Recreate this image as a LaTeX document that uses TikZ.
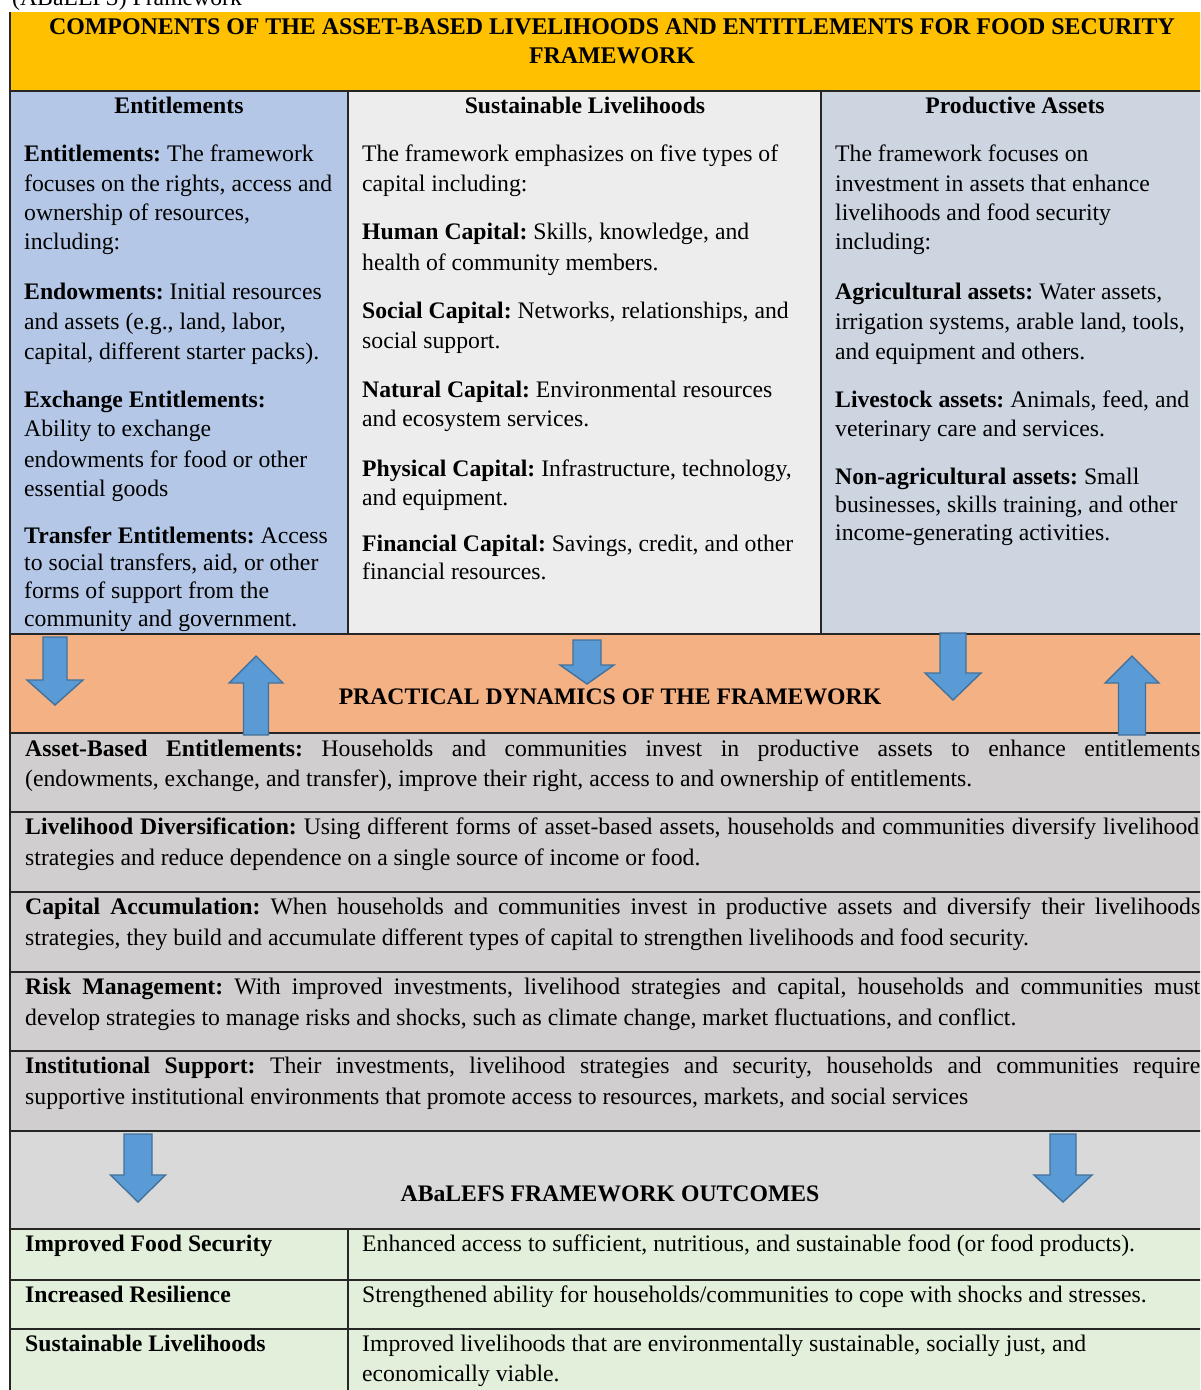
\documentclass[tikz,border=0pt]{standalone}
\usepackage{fontspec}
\setmainfont{Liberation Serif}
\definecolor{titlec}{HTML}{FFC000}
\definecolor{colA}{HTML}{B4C7E7}
\definecolor{colB}{HTML}{EDEDED}
\definecolor{colC}{HTML}{CDD5E1}
\definecolor{orangec}{HTML}{F4B183}
\definecolor{grayc}{HTML}{D0CECE}
\definecolor{outc}{HTML}{D9D9D9}
\definecolor{greenc}{HTML}{E2EFDA}
\definecolor{arrowfill}{HTML}{5B9BD5}
\definecolor{arrowline}{HTML}{41719C}
\definecolor{linec}{HTML}{262626}
\newcommand\fs{\fontsize{23.7}{29.5}\selectfont}
\newcounter{tln}
\newcommand\tline[3]{\stepcounter{tln}\node[txt] (tl\arabic{tln}) at (#1,#2) {#3};}
\newcommand\jline[4][1175pt]{\stepcounter{tln}\node[txt] (tl\arabic{tln}) at (#2,#3) {\makebox[#1][s]{#4}};}
\newcommand\blockarrow[6]{% cx, start, headbase, tip, shaft half, head half
  \draw[barrow] (#1-#5,#2) -- (#1+#5,#2) -- (#1+#5,#3) -- (#1+#6,#3) -- (#1,#4) -- (#1-#6,#3) -- (#1-#5,#3) -- cycle;}
\tikzset{
  txt/.style={anchor=base west, inner sep=0pt, font=\fs},
  ctxt/.style={anchor=base, inner sep=0pt, font=\fs\bfseries},
  cell/.style={draw=linec, line width=1.2pt},
  barrow/.style={fill=arrowfill, draw=arrowline, line width=1.4pt, line join=miter},
}
\begin{document}
\frenchspacing
\begin{tikzpicture}[x=1pt,y=-1pt]
\useasboundingbox (0,0) rectangle (1200,1390);
\clip (0,0) rectangle (1200,1390);
\fill[white] (0,0) rectangle (1200,1390);
% cut-off caption above the table
\node[txt] (cap) at (12,5) {(ABaLEFS) Framework};
% backgrounds
\fill[titlec] (10,12) rectangle (1210,91);
\fill[colA] (10,91) rectangle (348,634);
\fill[colB] (348,91) rectangle (821,634);
\fill[colC] (821,91) rectangle (1210,634);
\fill[orangec] (10,634) rectangle (1210,733);
\fill[grayc] (10,733) rectangle (1210,1131);
\fill[outc] (10,1131) rectangle (1210,1229);
\fill[greenc] (10,1229) rectangle (1210,1390);
% grid lines
\draw[cell] (10,12) -- (10,1390);
\draw[cell] (1210,12) -- (1210,1390);
\foreach \yy in {91,634,733,812,892,972,1051,1131,1229,1280,1329}
  \draw[cell] (10,\yy) -- (1210,\yy);
\draw[cell] (348,91) -- (348,634);
\draw[cell] (821,91) -- (821,634);
\draw[cell] (348,1229) -- (348,1390);
% title
\node[ctxt, font=\fontsize{23.9}{29.5}\selectfont\bfseries] (title1) at (612,34) {COMPONENTS OF THE ASSET-BASED LIVELIHOODS AND ENTITLEMENTS FOR FOOD SECURITY};
\node[ctxt, font=\fontsize{23.9}{29.5}\selectfont\bfseries] (title2) at (612,63) {FRAMEWORK};
% headers
\node[ctxt] (hA) at (179,113) {Entitlements};
\node[ctxt] (hB) at (585,113) {Sustainable Livelihoods};
\node[ctxt] (hC) at (1015,113) {Productive Assets};
% column 1
\tline{24}{161}{\textbf{Entitlements:} The framework}
\tline{24}{191}{focuses on the rights, access and}
\tline{24}{220}{ownership of resources,}
\tline{24}{249}{including:}
\tline{24}{299}{\textbf{Endowments:} Initial resources}
\tline{24}{329}{and assets (e.g., land, labor,}
\tline{24}{359}{capital, different starter packs).}
\tline{24}{407}{\textbf{Exchange Entitlements:}}
\tline{24}{436}{Ability to exchange}
\tline{24}{467}{endowments for food or other}
\tline{24}{496}{essential goods}
\tline{24}{543}{\textbf{Transfer Entitlements:} Access}
\tline{24}{570}{to social transfers, aid, or other}
\tline{24}{598}{forms of support from the}
\tline{24}{626}{community and government.}
% column 2
\tline{362}{161}{The framework emphasizes on five types of}
\tline{362}{191}{capital including:}
\tline{362}{239}{\textbf{Human Capital:} Skills, knowledge, and}
\tline{362}{270}{health of community members.}
\tline{362}{318}{\textbf{Social Capital:} Networks, relationships, and}
\tline{362}{348}{social support.}
\tline{362}{397}{\textbf{Natural Capital:} Environmental resources}
\tline{362}{426}{and ecosystem services.}
\tline{362}{476}{\textbf{Physical Capital:} Infrastructure, technology,}
\tline{362}{505}{and equipment.}
\tline{362}{551}{\textbf{Financial Capital:} Savings, credit, and other}
\tline{362}{579}{financial resources.}
% column 3
\tline{835}{161}{The framework focuses on}
\tline{835}{191}{investment in assets that enhance}
\tline{835}{220}{livelihoods and food security}
\tline{835}{249}{including:}
\tline{835}{299}{\textbf{Agricultural assets:} Water assets,}
\tline{835}{329}{irrigation systems, arable land, tools,}
\tline{835}{359}{and equipment and others.}
\tline{835}{407}{\textbf{Livestock assets:} Animals, feed, and}
\tline{835}{436}{veterinary care and services.}
\tline{835}{484}{\textbf{Non-agricultural assets:} Small}
\tline{835}{512}{businesses, skills training, and other}
\tline{835}{540}{income-generating activities.}
% practical dynamics
\node[ctxt] (pd) at (610,704) {PRACTICAL DYNAMICS OF THE FRAMEWORK};
\jline{25}{756}{\textbf{Asset-Based Entitlements:} Households and communities invest in productive assets to enhance entitlements}
\tline{25}{786}{(endowments, exchange, and transfer), improve their right, access to and ownership of entitlements.}
\jline[1174pt]{25}{834}{\textbf{Livelihood Diversification:} Using different forms of asset-based assets, households and communities diversify livelihood}
\tline{25}{865}{strategies and reduce dependence on a single source of income or food.}
\jline{25}{914}{\textbf{Capital Accumulation:} When households and communities invest in productive assets and diversify their livelihoods}
\tline{25}{945}{strategies, they build and accumulate different types of capital to strengthen livelihoods and food security.}
\jline{25}{994}{\textbf{Risk Management:} With improved investments, livelihood strategies and capital, households and communities must}
\tline{25}{1025}{develop strategies to manage risks and shocks, such as climate change, market fluctuations, and conflict.}
\jline{25}{1073}{\textbf{Institutional Support:} Their investments, livelihood strategies and security, households and communities require}
\tline{25}{1104}{supportive institutional environments that promote access to resources, markets, and social services}
% outcomes
\node[ctxt] (oc) at (610,1201) {ABaLEFS FRAMEWORK OUTCOMES};
\tline{25}{1251}{\textbf{Improved Food Security}}
\tline{362}{1251}{Enhanced access to sufficient, nutritious, and sustainable food (or food products).}
\tline{25}{1302}{\textbf{Increased Resilience}}
\tline{362}{1302}{Strengthened ability for households/communities to cope with shocks and stresses.}
\tline{25}{1351}{\textbf{Sustainable Livelihoods}}
\tline{362}{1351}{Improved livelihoods that are environmentally sustainable, socially just, and}
\tline{362}{1381}{economically viable.}
% block arrows
\blockarrow{55}{637}{680}{705}{12}{28}
\blockarrow{256}{735}{683}{656}{12.5}{27}
\blockarrow{587}{640}{665}{684}{14}{27}
\blockarrow{953}{633}{673}{700}{13}{28}
\blockarrow{1132}{735}{683}{656}{13.5}{27}
\blockarrow{138}{1134}{1175}{1202}{14}{27.5}
\blockarrow{1063}{1134}{1175}{1202}{13}{29}
\end{tikzpicture}
\end{document}
